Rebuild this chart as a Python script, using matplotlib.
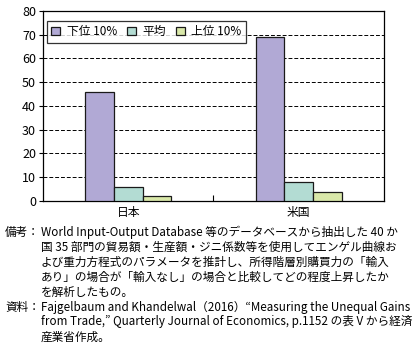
import matplotlib
matplotlib.use('Agg')
import matplotlib.pyplot as plt
import numpy as np
from matplotlib.ticker import FixedLocator

plt.rcParams['font.family'] = ['Noto Sans CJK JP', 'DejaVu Sans']

# data
countries = ['日本', '米国']
series_names = ['下位 10%', '平均', '上位 10%']
bottom10 = [45.8, 68.9]
average = [5.7, 7.8]
top10 = [1.9, 3.6]
colors = ['#b1a9d5', '#b3dcd3', '#d9e8a9']

notes = [
    ('備考：', 'World Input-Output Database 等のデータベースから抽出した 40 か'),
    ('', '国 35 部門の貿易額・生産額・ジニ係数等を使用してエンゲル曲線お'),
    ('', 'よび重力方程式のパラメータを推計し、所得階層別購買力の「輸入'),
    ('', 'あり」の場合が「輸入なし」の場合と比較してどの程度上昇したか'),
    ('', 'を解析したもの。'),
    ('資料：', 'Fajgelbaum and Khandelwal（2016）“Measuring the Unequal Gains'),
    ('', 'from Trade,” Quarterly Journal of Economics, p.1152 の表 V から経済'),
    ('', '産業省作成。'),
]

W, H = 414, 346
fig = plt.figure(figsize=(W/100., H/100.), dpi=100)
ax = fig.add_axes([43./W, 1-200.7/H, 341./W, 189.7/H])

x = np.arange(len(countries))
bw = 0.168
for i, (vals, name) in enumerate(zip([bottom10, average, top10], series_names)):
    ax.bar(x + (i-1)*bw, vals, bw, color=colors[i], edgecolor='#1a1a1a',
           linewidth=0.9, label=name, zorder=3)

ax.set_xlim(-0.5, 1.5)
ax.set_ylim(0, 80)
ax.set_yticks(range(0, 81, 10))
ax.set_xticks(x)
ax.set_xticklabels(countries, fontsize=8.5)
ax.xaxis.set_minor_locator(FixedLocator([0.5]))
ax.tick_params(axis='x', which='major', length=0, pad=4)
ax.tick_params(axis='x', which='minor', direction='in', length=4, width=0.8)
ax.tick_params(axis='y', direction='out', length=3, width=0.8, labelsize=9, pad=2)
for s in ax.spines.values():
    s.set_linewidth(0.9)
ax.yaxis.grid(True, linestyle=(0, (4, 2)), color='black', linewidth=0.7)
ax.set_axisbelow(True)

leg = ax.legend(loc='upper left', ncol=3, fontsize=8.5, frameon=True, fancybox=False,
                handlelength=0.75, handleheight=0.75, handletextpad=0.55, columnspacing=0.85,
                borderpad=0.4, borderaxespad=0.3, bbox_to_anchor=(0.0, 1 - 6/189.7))
leg.get_frame().set_edgecolor('black')
leg.get_frame().set_linewidth(0.9)

for i, (head, line) in enumerate(notes):
    y = 1 - (232 + 15*i)/H
    if head:
        fig.text(5./W, y, head, fontsize=8.4, va='center', ha='left')
    fig.text(41./W, y, line, fontsize=8.4, va='center', ha='left')

fig.savefig('out.png', dpi=100)
